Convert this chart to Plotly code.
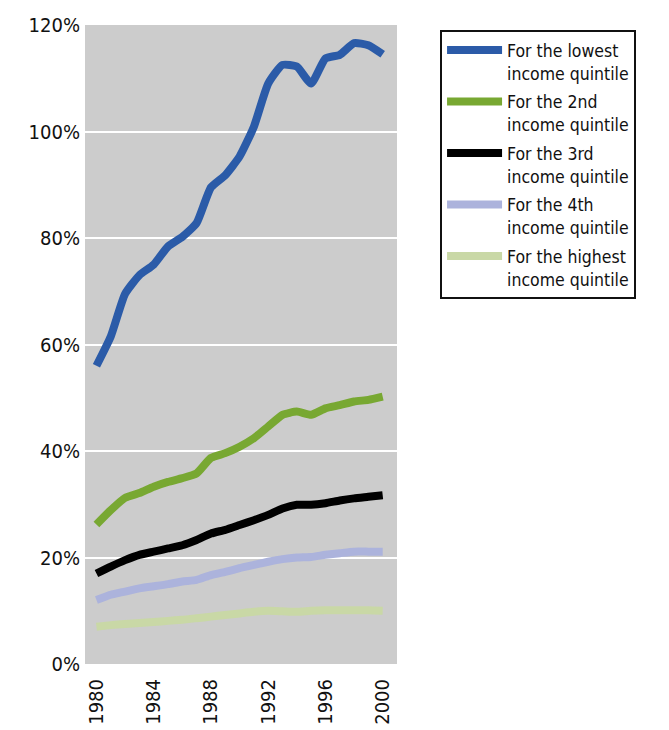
import plotly.graph_objects as go

years = list(range(1980, 2001))

lowest = [56.0, 61.5, 69.5, 73.0, 75.0, 78.4, 80.2, 82.8, 89.5, 91.8, 95.3,
          100.9, 109.0, 112.5, 112.2, 109.0, 113.7, 114.4, 116.6, 116.2, 114.5]
second = [26.2, 28.9, 31.2, 32.1, 33.3, 34.2, 34.9, 35.8, 38.7, 39.6, 40.8,
          42.4, 44.6, 46.8, 47.4, 46.8, 48.0, 48.6, 49.3, 49.6, 50.2]
third = [17.0, 18.3, 19.5, 20.5, 21.1, 21.7, 22.3, 23.3, 24.5, 25.2, 26.1,
         27.0, 28.0, 29.2, 29.9, 29.9, 30.2, 30.7, 31.1, 31.4, 31.7]
fourth = [12.0, 13.0, 13.6, 14.2, 14.6, 15.0, 15.5, 15.8, 16.7, 17.3, 18.0,
          18.6, 19.2, 19.7, 20.0, 20.1, 20.5, 20.8, 21.1, 21.1, 21.1]
highest = [7.0, 7.3, 7.5, 7.7, 7.9, 8.1, 8.3, 8.6, 8.9, 9.2, 9.5,
           9.8, 10.0, 9.9, 9.8, 10.0, 10.1, 10.1, 10.1, 10.1, 10.0]

names = ["For the lowest<br>income quintile",
         "For the 2nd<br>income quintile",
         "For the 3rd<br>income quintile",
         "For the 4th<br>income quintile",
         "For the highest<br>income quintile"]
colors = ["#2b5ba8", "#78a832", "#000000", "#acb3dc", "#c9d8a6"]
series = [lowest, second, third, fourth, highest]

y_ticks = [0, 20, 40, 60, 80, 100, 120]
x_ticks = [1980, 1984, 1988, 1992, 1996, 2000]

FONT = "DejaVu Sans Condensed, Liberation Sans Narrow, sans-serif"

fig = go.Figure()
for i, (name, col, vals) in enumerate(zip(names, colors, series)):
    fig.add_trace(go.Scatter(
        x=years, y=vals, name=name, mode="lines", legendgroup=f"g{i}",
        line=dict(color=col, width=8, shape="spline", smoothing=0.5),
    ))

fig.update_layout(
    width=669, height=730,
    margin=dict(l=85, r=272, t=25, b=66),
    paper_bgcolor="white",
    plot_bgcolor="#cccccc",
    font=dict(family=FONT, size=20, color="#111111"),
    showlegend=True,
    legend=dict(
        x=1.138, y=0.992, xanchor="left", yanchor="top",
        bordercolor="#111111", borderwidth=2, bgcolor="white",
        font=dict(family=FONT, size=17.5, color="#111111"),
        valign="top", tracegroupgap=3, itemwidth=55,
    ),
)
fig.update_xaxes(
    range=[1979.2, 2001.0], tickvals=x_ticks, ticktext=[str(t) for t in x_ticks],
    tickangle=-90, showgrid=False, zeroline=False, showline=False,
    ticks="", ticklabelstandoff=10, automargin=False,
)
fig.update_yaxes(
    range=[0, 120], tickvals=y_ticks, ticktext=[f"{t}%" for t in y_ticks],
    showgrid=True, gridcolor="white", gridwidth=2, zeroline=False,
    showline=False, ticks="", ticklabelstandoff=4, automargin=False,
)

fig.write_html(
    "out.html",
    config={"displayModeBar": False},
    post_script="document.body.style.margin='0';document.body.style.overflow='hidden';",
)
